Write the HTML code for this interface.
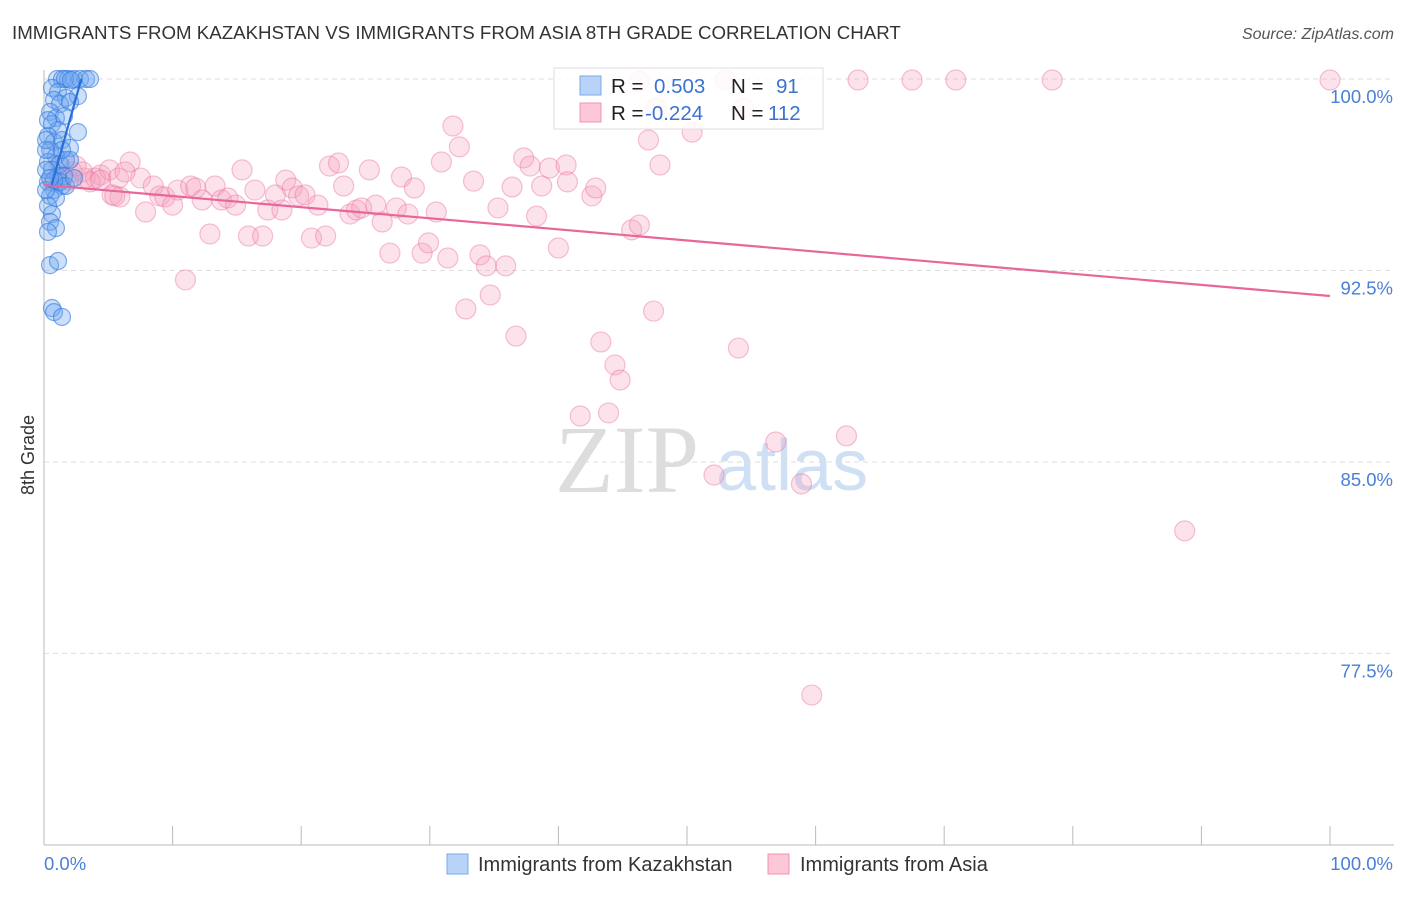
<!DOCTYPE html>
<html><head><meta charset="utf-8"><style>
body{margin:0;background:#fff;font-family:"Liberation Sans",sans-serif}
</style></head><body>
<svg id="chart" width="1406" height="892" xmlns="http://www.w3.org/2000/svg" font-family="Liberation Sans, sans-serif">
<text x="12" y="39" font-size="18.7" fill="#333">IMMIGRANTS FROM KAZAKHSTAN VS IMMIGRANTS FROM ASIA 8TH GRADE CORRELATION CHART</text>
<text x="1394" y="39" font-size="16" fill="#555" font-style="italic" text-anchor="end">Source: ZipAtlas.com</text>
<g>
<text x="555" y="492" font-size="96" fill="#ddd" font-family="Liberation Serif, serif">ZIP</text>
<text x="716" y="490" font-size="72" fill="#cfe0f5">atlas</text>
</g>
<g id="grid"></g>
<g id="axes"></g>
<g id="marks"></g>
<text transform="translate(34,455) rotate(-90)" font-size="18" fill="#333" text-anchor="middle">8th Grade</text>
<g>
<rect x="554" y="68" width="269" height="61" fill="#fff" fill-opacity="0.85" stroke="#ddd"/>
<rect x="580" y="76" width="21" height="19" fill="#b8d3f7" stroke="#7aa8e8"/>
<text x="611" y="93" font-size="20.5" fill="#222">R =</text>
<text x="654" y="93" font-size="20.5" fill="#3b73d1">0.503</text>
<text x="731" y="93" font-size="20.5" fill="#222">N =</text>
<text x="776" y="93" font-size="20.5" fill="#3b73d1">91</text>
<rect x="580" y="103" width="21" height="19" fill="#fcc7d7" stroke="#f093b2"/>
<text x="611" y="120" font-size="20.5" fill="#222">R =</text>
<text x="645" y="120" font-size="20.5" fill="#3b73d1">-0.224</text>
<text x="731" y="120" font-size="20.5" fill="#222">N =</text>
<text x="768" y="120" font-size="20.5" fill="#3b73d1">112</text>
</g>
<g>
<rect x="447" y="854" width="21" height="20" fill="#b8d3f7" stroke="#7aa8e8"/>
<text x="478" y="871" font-size="20" fill="#333">Immigrants from Kazakhstan</text>
<rect x="768" y="854" width="21" height="20" fill="#fcc7d7" stroke="#f093b2"/>
<text x="800" y="871" font-size="20" fill="#333">Immigrants from Asia</text>
</g>
</svg>
<script>
const yTicks=[100,92.5,85,77.5];
const yTickLabels=["100.0%","92.5%","85.0%","77.5%"];
const blueX=[1.01,1.4,1.87,2.33,2.8,3.27,3.58,1.63,2.1,.62,1.09,1.71,2.64,.78,1.24,2.02,.47,.93,1.56,.62,1.09,.31,.78,1.4,2.02,2.64,.47,.93,.31,1.24,1.71,.62,1.09,.31,1.4,.78,.47,.93,.31,.62,.47,.93,.31,.47,1.09,.62,.78,1.4,.16,.16,1.56,1.24,1.71,.78,.47,.16,.31,.16,2.02,2.33,1.4];
const blueY=[100,100,100,100,100,100,100,100,99.96,99.65,99.49,99.26,99.33,99.18,99.02,99.1,98.71,98.47,98.55,98.24,98.0,97.77,97.53,97.61,97.3,97.92,97.22,96.98,96.75,96.67,96.83,96.44,96.2,95.97,95.81,95.65,95.42,95.34,95.03,94.71,94.4,94.16,94.01,92.71,92.87,91.03,90.87,90.68,96.44,95.65,96.2,95.97,95.81,96.04,96.12,97.22,98.39,97.61,96.83,96.12,97.22];
const pinkX=[1.2,2.2,3.2,4.4,5.3,5.9,6.7,7.5,7.9,8.5,9.0,9.4,10.0,10.4,11.0,11.4,11.8,12.3,12.9,13.3,13.8,14.3,14.9,15.4,15.9,16.4,17.0,17.4,18.0,18.5,18.8,19.3,19.8,20.3,20.8,21.3,21.9,22.2,22.9,23.3,23.8,24.3,24.7,25.3,25.8,26.3,26.9,27.4,27.8,28.3,28.8,29.4,29.9,30.5,30.9,31.4,31.8,32.3,32.8,33.4,33.9,34.4,34.7,35.3,35.9,36.4,36.7,37.3,37.8,38.3,38.7,39.3,40.0,40.6,40.7,41.7,42.6,42.9,43.3,43.9,44.4,44.8,45.7,46.3,47.0,47.4,47.9,50.4,52.1,53.0,54.0,54.4,56.9,58.9,59.7,62.4,63.3,67.5,70.9,78.4,88.7,100,46.3,47.6,0.8,1.4,1.9,2.5,3.0,4.0,5.1,5.8,6.3,5.5,3.6,4.4];
const pinkY=[96.63,96.36,96.12,96.24,95.46,95.38,96.75,96.12,94.79,95.81,95.42,95.38,95.06,95.65,92.13,95.81,95.73,95.26,93.93,95.81,95.26,95.34,95.06,96.44,93.85,95.65,93.85,94.87,95.46,94.87,96.04,95.73,95.42,95.46,93.77,95.06,93.85,96.59,96.71,95.81,94.71,94.87,94.95,96.44,95.06,94.4,93.18,94.95,96.16,94.71,95.73,93.18,93.58,94.79,96.75,92.99,98.16,97.34,90.99,96.0,93.11,92.68,91.54,94.95,92.68,95.77,89.93,96.91,96.59,94.63,95.81,96.51,93.38,96.63,95.97,86.8,95.42,95.73,89.7,86.92,88.8,88.21,94.09,94.28,97.61,90.91,96.63,97.92,84.49,99.96,89.46,98.86,85.78,84.14,75.87,86.02,99.96,99.96,99.96,99.96,82.3,99.96,99.92,98.86,95.97,96.12,96.04,96.59,96.36,96.12,96.44,96.12,96.36,95.42,95.97,96.04];
const blueTrendX=[0.6,2.9], blueTrendY=[95.85,100];
const pinkTrendX=[0,100], pinkTrendY=[95.85,91.5];
const X0=44,X1=1330,Y100=79,PXPER=25.53;
const sx=v=>X0+(X1-X0)*v/100;
const sy=v=>Y100+(100-v)*PXPER;
const NS="http://www.w3.org/2000/svg";
function mk(tag,attrs,parent){const e=document.createElementNS(NS,tag);for(const k in attrs)e.setAttribute(k,attrs[k]);parent.appendChild(e);return e;}
const grid=document.getElementById('grid'),axes=document.getElementById('axes'),marks=document.getElementById('marks');
yTicks.forEach((t,i)=>{
 const l=mk('line',{x1:44,x2:1394,y1:sy(t),y2:sy(t),stroke:'#ddd','stroke-dasharray':'5,4'},grid);
 
 
 const tx=mk('text',{x:1393,y:sy(t)+24,'font-size':18.5,fill:'#4a7fd6','text-anchor':'end'},grid);
 tx.textContent=yTickLabels[i];
 
 
});
const ax=mk('line',{x1:44,x2:1394,y1:845,y2:845,stroke:'#bbb'},axes);


const ay=mk('line',{x1:44,x2:44,y1:70,y2:845,stroke:'#bbb'},axes);


for(let i=0;i<=10;i++){
 const t=mk('line',{x1:sx(i*10),x2:sx(i*10),y1:826,y2:845,stroke:'#bbb'},axes);
 
 
}
const xl0=mk('text',{x:44,y:870,'font-size':18.5,fill:'#4a7fd6'},axes);xl0.textContent='0.0%';


const xl1=mk('text',{x:1393,y:870,'font-size':18.5,fill:'#4a7fd6','text-anchor':'end'},axes);xl1.textContent='100.0%';


pinkX.forEach((v,i)=>{
 const c=mk('circle',{cx:sx(v),cy:sy(pinkY[i]),r:10,fill:'rgba(246,160,190,0.3)',stroke:'rgba(234,120,160,0.45)','stroke-width':1.2},marks);
 
 
});
blueX.forEach((v,i)=>{
 const c=mk('circle',{cx:sx(v),cy:sy(blueY[i]),r:8.5,fill:'rgba(110,165,240,0.35)',stroke:'rgba(50,120,220,0.6)','stroke-width':1.2},marks);
 
 
});
const pt=mk('line',{x1:sx(pinkTrendX[0]),y1:sy(pinkTrendY[0]),x2:sx(pinkTrendX[1]),y2:sy(pinkTrendY[1]),stroke:'#e8679a','stroke-width':2.2},marks);


const bt=mk('line',{x1:sx(blueTrendX[0]),y1:sy(blueTrendY[0]),x2:sx(blueTrendX[1]),y2:sy(blueTrendY[1]),stroke:'#2a6fd6','stroke-width':2.2},marks);


</script>
</body></html>
